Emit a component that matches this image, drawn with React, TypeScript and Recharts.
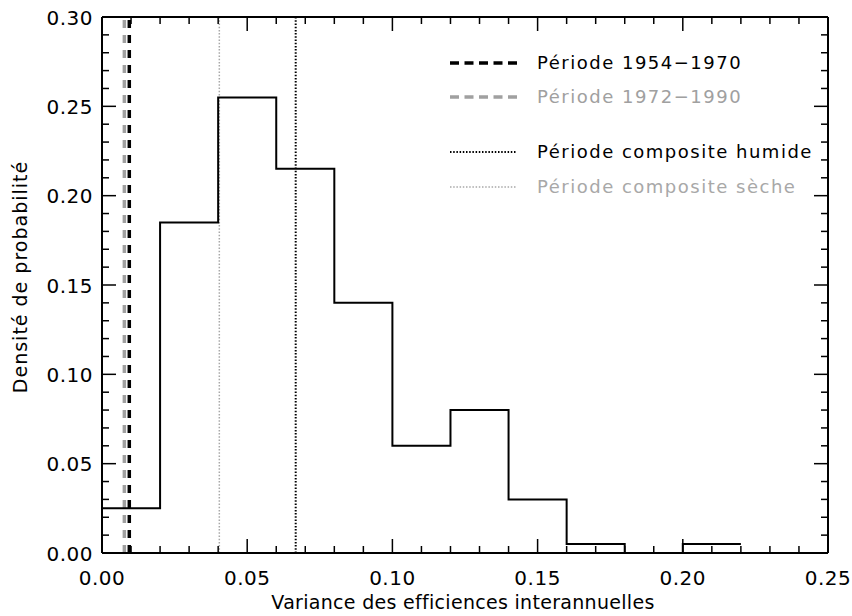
import React from 'react';
import { ComposedChart, Line, XAxis, YAxis, ReferenceLine } from 'recharts';

// Histogram bin left edges (last entry = right edge of last bin, repeated value)
const binEdges = [0, 0.02, 0.04, 0.06, 0.08, 0.10, 0.12, 0.14, 0.16, 0.18, 0.20, 0.22];
const densities = [0.025, 0.185, 0.255, 0.215, 0.14, 0.06, 0.08, 0.03, 0.005, 0.0, 0.005, 0.005];

const xTicks = [0, 0.01, 0.02, 0.03, 0.04, 0.05, 0.06, 0.07, 0.08, 0.09, 0.10, 0.11, 0.12, 0.13, 0.14, 0.15, 0.16, 0.17, 0.18, 0.19, 0.20, 0.21, 0.22, 0.23, 0.24, 0.25];
const yTicks = [0, 0.01, 0.02, 0.03, 0.04, 0.05, 0.06, 0.07, 0.08, 0.09, 0.10, 0.11, 0.12, 0.13, 0.14, 0.15, 0.16, 0.17, 0.18, 0.19, 0.20, 0.21, 0.22, 0.23, 0.24, 0.25, 0.26, 0.27, 0.28, 0.29, 0.30];

const periodNames = ['Période 1954−1970', 'Période 1972−1990', 'Période composite humide', 'Période composite sèche'];
const periodValues = [0.0094, 0.0077, 0.0667, 0.0404];
const periodColors = ['#000000', '#a0a0a0', '#000000', '#a8a8a8'];

const xTitle = 'Variance des efficiences interannuelles';
const yTitle = 'Densité de probabilité';

const data = binEdges.map((x, i) => ({ x, d: densities[i] }));

const FONT = 'DejaVu Sans';
const isMajor = (v: number) => Math.abs(v / 0.05 - Math.round(v / 0.05)) < 1e-6;

const lineStyles = [
  { width: 3.5, dash: '8 7' },
  { width: 3.5, dash: '8 7' },
  { width: 2, dash: '1.5 1.7' },
  { width: 1.5, dash: '1.5 1.7' },
];

const BottomTick = (props: any) => {
  const { x, y, payload } = props;
  const v = payload.value;
  const major = isMajor(v);
  return (
    <g>
      <line x1={x} x2={x} y1={y} y2={y - (major ? 14 : 7)} stroke="#000" strokeWidth={1.5} />
      {major && (
        <text x={x} y={y + 32} textAnchor="middle" fontFamily={FONT} fontSize={20} letterSpacing={0.5} fill="#000">
          {v.toFixed(2)}
        </text>
      )}
    </g>
  );
};

const TopTick = (props: any) => {
  const { x, y, payload } = props;
  const major = isMajor(payload.value);
  return <line x1={x} x2={x} y1={y} y2={y + (major ? 14 : 7)} stroke="#000" strokeWidth={1.5} />;
};

const LeftTick = (props: any) => {
  const { x, y, payload } = props;
  const v = payload.value;
  const major = isMajor(v);
  return (
    <g>
      <line x1={x} x2={x + (major ? 14 : 7)} y1={y} y2={y} stroke="#000" strokeWidth={1.5} />
      {major && (
        <text x={x - 9} y={y + 7.5} textAnchor="end" fontFamily={FONT} fontSize={20} letterSpacing={0.5} fill="#000">
          {v.toFixed(2)}
        </text>
      )}
    </g>
  );
};

const RightTick = (props: any) => {
  const { x, y, payload } = props;
  const major = isMajor(payload.value);
  return <line x1={x} x2={x - (major ? 14 : 7)} y1={y} y2={y} stroke="#000" strokeWidth={1.5} />;
};

const legendRows = [69, 103, 158, 193];

export default function App() {
  return (
    <div style={{ position: 'absolute', left: 0, top: 0, width: 852, height: 616, background: '#fff' }}>
      <ComposedChart
        width={852}
        height={616}
        data={data}
        margin={{ top: 16, right: 23, bottom: 62, left: 101 }}
      >
        <XAxis
          xAxisId="b"
          dataKey="x"
          type="number"
          domain={[0, 0.25]}
          allowDataOverflow
          ticks={xTicks}
          interval={0}
          height={1}
          tickSize={0}
          tickMargin={0}
          tickLine={false}
          axisLine={{ stroke: '#000', strokeWidth: 2 }}
          tick={(p: any) => <BottomTick {...p} />}
        />
        <XAxis
          xAxisId="t"
          orientation="top"
          dataKey="x"
          type="number"
          domain={[0, 0.25]}
          allowDataOverflow
          ticks={xTicks}
          interval={0}
          height={1}
          tickSize={0}
          tickMargin={0}
          tickLine={false}
          axisLine={{ stroke: '#000', strokeWidth: 2 }}
          tick={(p: any) => <TopTick {...p} />}
        />
        <YAxis
          yAxisId="l"
          type="number"
          domain={[0, 0.3]}
          allowDataOverflow
          ticks={yTicks}
          interval={0}
          width={1}
          tickSize={0}
          tickMargin={0}
          tickLine={false}
          axisLine={{ stroke: '#000', strokeWidth: 2 }}
          tick={(p: any) => <LeftTick {...p} />}
        />
        <YAxis
          yAxisId="r"
          orientation="right"
          type="number"
          domain={[0, 0.3]}
          allowDataOverflow
          ticks={yTicks}
          interval={0}
          width={1}
          tickSize={0}
          tickMargin={0}
          tickLine={false}
          axisLine={{ stroke: '#000', strokeWidth: 2 }}
          tick={(p: any) => <RightTick {...p} />}
        />
        {periodValues.map((v, i) => (
          <ReferenceLine
            key={periodNames[i]}
            xAxisId="b"
            yAxisId="l"
            x={v}
            stroke={periodColors[i]}
            strokeWidth={lineStyles[i].width}
            strokeDasharray={lineStyles[i].dash}
          />
        ))}
        <Line
          xAxisId="b"
          yAxisId="l"
          type="stepAfter"
          dataKey="d"
          stroke="#000"
          strokeWidth={2}
          dot={false}
          activeDot={false}
          isAnimationActive={false}
        />
        <Line
          xAxisId="t"
          yAxisId="r"
          dataKey="d"
          stroke="none"
          dot={false}
          activeDot={false}
          legendType="none"
          isAnimationActive={false}
        />
      </ComposedChart>
      <svg
        width={852}
        height={616}
        style={{ position: 'absolute', left: 0, top: 0, pointerEvents: 'none' }}
      >
        {periodNames.map((name, i) => (
          <g key={name}>
            <line
              x1={450}
              x2={517}
              y1={legendRows[i] - 6}
              y2={legendRows[i] - 6}
              stroke={periodColors[i]}
              strokeWidth={lineStyles[i].width}
              strokeDasharray={i < 2 ? '9 5.5' : lineStyles[i].dash}
            />
            <text
              x={537}
              y={legendRows[i]}
              fontFamily={FONT}
              fontSize={18}
              letterSpacing={1.5}
              fill={periodColors[i]}
            >
              {name}
            </text>
          </g>
        ))}
        <text x={463} y={609} textAnchor="middle" fontFamily={FONT} fontSize={19} letterSpacing={0.3} fill="#000">
          {xTitle}
        </text>
        <text
          x={0}
          y={0}
          transform="translate(27, 277) rotate(-90)"
          textAnchor="middle"
          fontFamily={FONT}
          fontSize={19}
          letterSpacing={1}
          fill="#000"
        >
          {yTitle}
        </text>
      </svg>
    </div>
  );
}
